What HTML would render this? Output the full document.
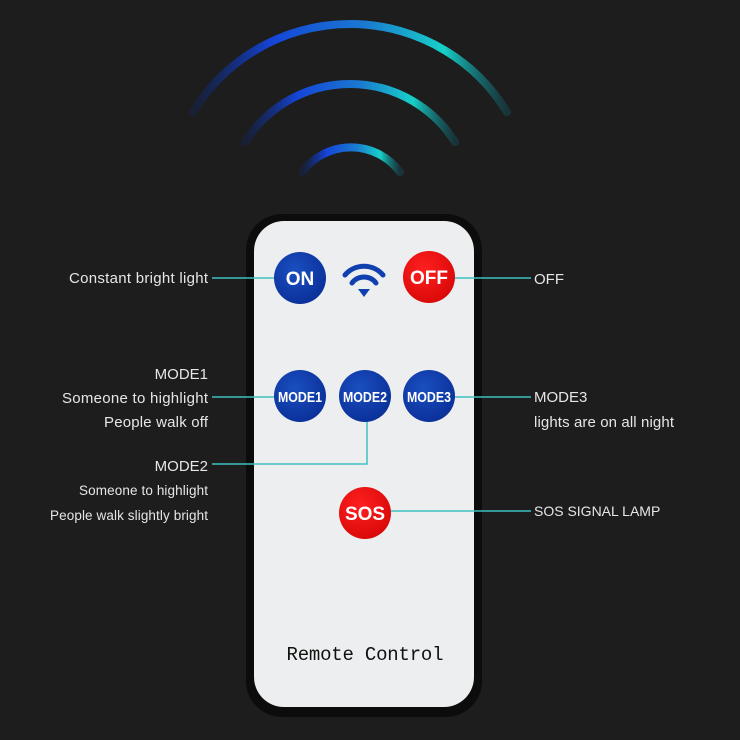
<!DOCTYPE html>
<html><head><meta charset="utf-8"><style>
html,body{margin:0;padding:0;background:#1d1d1d;}
svg{display:block}
text{font-family:"Liberation Sans",sans-serif;fill:#e6e6e6}
.b{font-family:"Liberation Sans",sans-serif;fill:#fff;font-weight:bold}
</style></head><body>
<svg width="740" height="740" viewBox="0 0 740 740" xmlns="http://www.w3.org/2000/svg">
<defs>
<linearGradient id="g" x1="0" x2="1" y1="0" y2="0">
<stop offset="0" stop-color="#0a2a8a" stop-opacity="0.2"/>
<stop offset="0.25" stop-color="#1545d8"/>
<stop offset="0.55" stop-color="#1a7ad0"/>
<stop offset="0.8" stop-color="#18d0c8"/>
<stop offset="1" stop-color="#0e6a78" stop-opacity="0.3"/>
</linearGradient>
<radialGradient id="bl" cx="0.4" cy="0.35" r="0.7"><stop offset="0" stop-color="#1a4fc0"/><stop offset="1" stop-color="#0a2f98"/></radialGradient>
<radialGradient id="rd" cx="0.4" cy="0.35" r="0.7"><stop offset="0" stop-color="#ff2020"/><stop offset="1" stop-color="#d80808"/></radialGradient>
</defs>
<rect width="740" height="740" fill="#1d1d1d"/>
<g fill="none" stroke="url(#g)" stroke-width="8" stroke-linecap="round">
<path d="M193,112 A184,184 0 0 1 507,112"/>
<path d="M245,142 A124,124 0 0 1 455,142"/>
<path d="M302,172 A61,61 0 0 1 400,172"/>
</g>
<rect x="246" y="214" width="236" height="503" rx="36" fill="#0c0c0c"/>
<rect x="254" y="221" width="220" height="486" rx="30" fill="#eceeef"/>
<g stroke="#3fc0c0" stroke-width="1.5" fill="none">
<line x1="212" y1="278" x2="292" y2="278"/>
<line x1="438" y1="278" x2="531" y2="278"/>
<line x1="212" y1="397" x2="285" y2="397"/>
<line x1="440" y1="397" x2="531" y2="397"/>
<polyline points="367,416 367,464 212,464"/>
<line x1="385" y1="511" x2="531" y2="511"/>
</g>
<circle cx="300" cy="278" r="26" fill="url(#bl)"/>
<circle cx="429" cy="277" r="26" fill="url(#rd)"/>
<circle cx="300" cy="396" r="26" fill="url(#bl)"/>
<circle cx="365" cy="396" r="26" fill="url(#bl)"/>
<circle cx="429" cy="396" r="26" fill="url(#bl)"/>
<circle cx="365" cy="513" r="26" fill="url(#rd)"/>
<g stroke="#1040b0" fill="none" stroke-width="5" stroke-linecap="round">
<path d="M345,275 A25,25 0 0 1 383,275"/>
<path d="M352,283 A15,15 0 0 1 376,283"/>
</g>
<path d="M358,289 L370,289 L364,297 Z" fill="#1040b0"/>
<text class="b" x="300" y="285" font-size="19" text-anchor="middle">ON</text>
<text class="b" x="429" y="284" font-size="19" text-anchor="middle">OFF</text>
<text class="b" x="300" y="402" font-size="15" text-anchor="middle" textLength="44" lengthAdjust="spacingAndGlyphs" font-weight="normal">MODE1</text>
<text class="b" x="365" y="402" font-size="15" text-anchor="middle" textLength="44" lengthAdjust="spacingAndGlyphs" font-weight="normal">MODE2</text>
<text class="b" x="429" y="402" font-size="15" text-anchor="middle" textLength="44" lengthAdjust="spacingAndGlyphs" font-weight="normal">MODE3</text>
<text class="b" x="365" y="520" font-size="19" text-anchor="middle">SOS</text>
<text x="365" y="660" font-size="19" text-anchor="middle" style="font-family:'Liberation Mono',monospace;fill:#111" textLength="157">Remote Control</text>
<g font-size="15">
<text x="208" y="283" text-anchor="end" textLength="139">Constant bright light</text>
<text x="534" y="284">OFF</text>
<text x="208" y="379" text-anchor="end">MODE1</text>
<text x="208" y="403" text-anchor="end" textLength="146">Someone to highlight</text>
<text x="208" y="427" text-anchor="end" textLength="104">People walk off</text>
<text x="208" y="471" text-anchor="end">MODE2</text>
<text x="534" y="402">MODE3</text>
<text x="534" y="427" textLength="140">lights are on all night</text>
<text x="534" y="516" font-size="14">SOS SIGNAL LAMP</text>
</g>
<g font-size="13.5">
<text x="208" y="495" text-anchor="end" textLength="129">Someone to highlight</text>
<text x="208" y="520" text-anchor="end" textLength="158">People walk slightly bright</text>
</g>
</svg>
</body></html>
